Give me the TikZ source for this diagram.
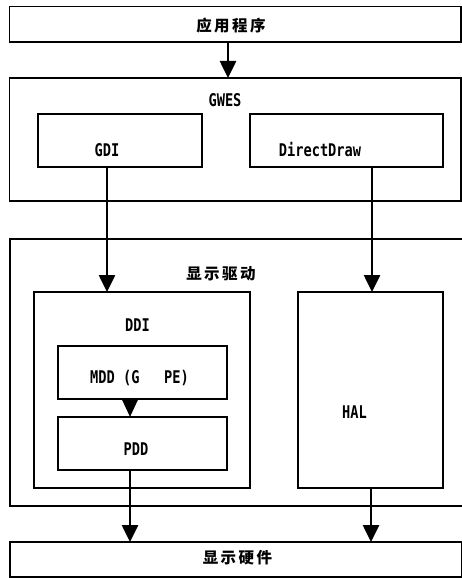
\documentclass[tikz,border=0pt]{standalone}
\usepackage{fontspec}
\newfontfamily\latf{DejaVu Sans Mono}[FakeStretch=0.78]
\newfontfamily\cjkf{Noto Sans CJK SC}[LetterSpace=16]
\usetikzlibrary{arrows.meta}
\begin{document}
\begin{tikzpicture}[x=1pt,y=-1pt,
  box/.style={draw,line width=1.6pt,inner sep=0pt,outer sep=0pt,rectangle},
  lbl/.style={inner sep=0pt,font=\latf\bfseries\fontsize{17.5}{18}\selectfont},
  cjklbl/.style={inner sep=0pt,font=\cjkf\bfseries\fontsize{15.5}{16}\selectfont},
  arr/.style={line width=2.6pt,-{Triangle[length=17pt,width=16pt]}},
  arrs/.style={line width=2.6pt,-{Triangle[length=17pt,width=15pt]}}]
\useasboundingbox (0,0) rectangle (462,578);
\begin{scope}
\clip (0,0) rectangle (462,578);
% boxes
\node[box,minimum width=451.5pt,minimum height=35.5pt] (app) at (235.25,24.25) {};
\node[box,minimum width=451.5pt,minimum height=123pt] (gwes) at (235.25,139.5) {};
\node[box,minimum width=164pt,minimum height=53pt] (gdi) at (120,140.5) {};
\node[box,minimum width=193pt,minimum height=53pt] (dd) at (346.5,140.5) {};
\node[box,minimum width=460pt,minimum height=267pt] (drv) at (240,372.5) {};
\node[box,minimum width=216pt,minimum height=196pt] (ddi) at (142,390) {};
\node[box,minimum width=169pt,minimum height=53pt] (mdd) at (142.5,372.5) {};
\node[box,minimum width=169pt,minimum height=53pt] (pdd) at (142.5,443.5) {};
\node[box,minimum width=145pt,minimum height=196pt] (hal) at (370.5,390) {};
\node[box,minimum width=451.5pt,minimum height=35pt] (hw) at (235.75,559.5) {};
\end{scope}
% labels
\node[cjklbl] (tapp) at (231,26) {应用程序};
\node[lbl] (tgwes) at (225,100) {GWES};
\node[lbl] (tgdi) at (107,150) {GDI};
\node[lbl] (tdd) at (320,150) {DirectDraw};
\node[cjklbl] (tdrv) at (221,274) {显示驱动};
\node[lbl] (tddi) at (137.5,325) {DDI};
\node[lbl] (tmdd) at (139.5,378.5) {MDD (G\ \ \ PE)};
\node[lbl] (tpdd) at (136,449) {PDD};
\node[lbl] (thal) at (354.5,412) {HAL};
\node[cjklbl] (thw) at (237.5,558) {显示硬件};
% connector x positions
\coordinate (xa) at (228,0);
\coordinate (xg) at (107,0);
\coordinate (xd) at (372,0);
\coordinate (xm) at (130,0);
\coordinate (xh) at (371,0);
% arrows
\draw[arr] (app.south -| xa) -- (gwes.north -| xa);
\draw[arr] (gdi.south -| xg) -- (ddi.north -| xg);
\draw[arr] (dd.south -| xd) -- (hal.north -| xd);
\draw[arrs] (mdd.south -| xm) -- (pdd.north -| xm);
\draw[arr] (pdd.south -| xm) -- (hw.north -| xm);
\draw[arr] (hal.south -| xh) -- (hw.north -| xh);
\end{tikzpicture}
\end{document}
